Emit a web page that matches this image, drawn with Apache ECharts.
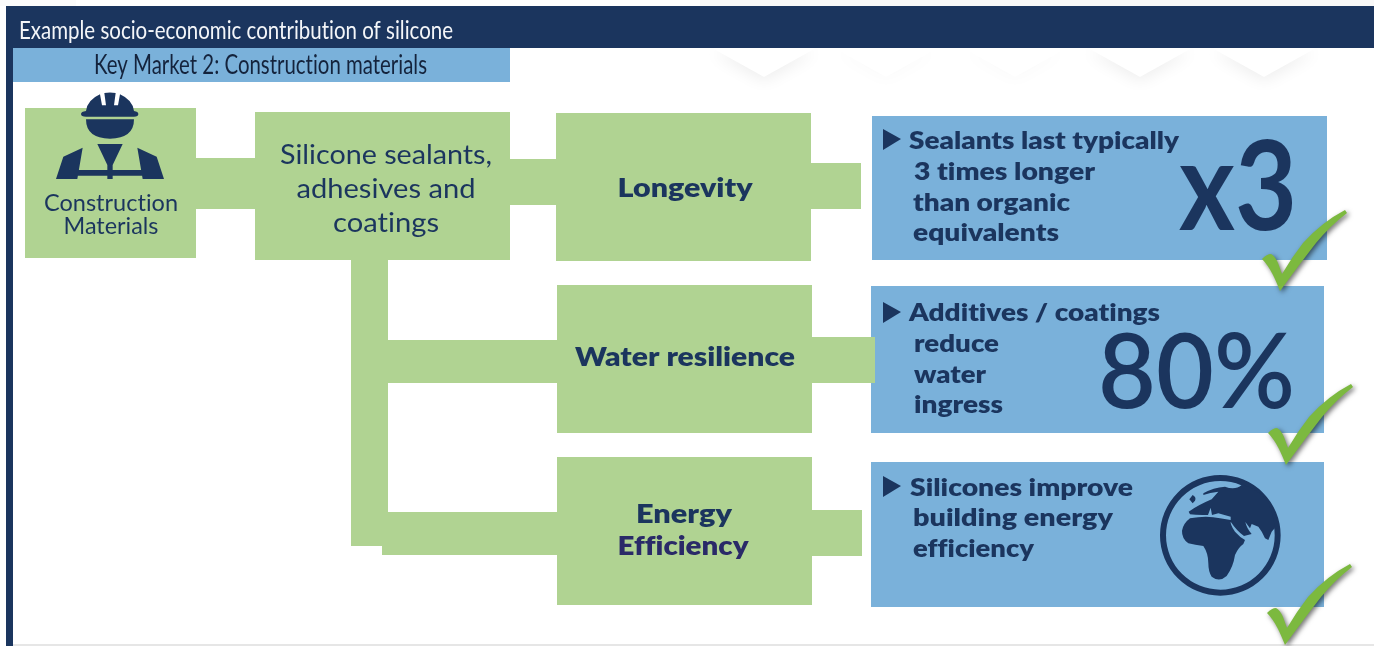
<!DOCTYPE html>
<html><head><meta charset="utf-8">
<script src="https://cdn.jsdelivr.net/npm/echarts@6/dist/echarts.min.js"></script>
<style>html,body{margin:0;padding:0;background:#fff}#c{width:1374px;height:646px}</style>
</head><body><div id="c"></div>
<script>
// ---- content ----
var chartTitle = ['Example socio-economic contribution of silicone'];
var marketTitle = ['Key Market 2: Construction materials'];
var sourceLabel = ['Construction', 'Materials'];
var productLabel = ['Silicone sealants,', 'adhesives and', 'coatings'];
var benefitLabels = ['Longevity', 'Water resilience', 'Energy', 'Efficiency'];
var claimLongevity = ['Sealants last typically', '3 times longer', 'than organic', 'equivalents'];
var claimWater = ['Additives / coatings', 'reduce', 'water', 'ingress'];
var claimEnergy = ['Silicones improve', 'building energy', 'efficiency'];
var bigValues = ['x3', '80%'];

var NAVY = '#1b355e', GREEN = '#b0d392', BLUE = '#7ab1da', CHECK = '#7cb93f';

// ---- layout table for the hidden pixel axes: [x0, y0, x1, y1, fill] ----
var blocks = [
  [700, 0, 1374, 6, '#f8f8f8'], [0, 0, 76, 6, '#fbfbfb'],
  [6, 6, 1374, 48, NAVY], [6, 48, 13, 646, NAVY], [13, 48, 510, 82, BLUE],
  [872, 116, 1327, 260, BLUE], [871, 286, 1324, 433, BLUE], [871, 462, 1324, 607, BLUE],
  [25, 108, 196, 258, GREEN], [196, 158, 255, 209, GREEN], [255, 112, 510, 260, GREEN],
  [510, 159, 556, 205, GREEN], [556, 113, 811, 261, GREEN], [811, 163, 861, 209, GREEN],
  [351, 260, 388, 546, GREEN], [388, 340, 557, 383, GREEN], [557, 285, 812, 433, GREEN],
  [812, 337, 875, 383, GREEN], [382, 512, 557, 555, GREEN], [557, 457, 812, 605, GREEN],
  [812, 510, 862, 556, GREEN], [13, 644, 1374, 646, '#e6e6e6']
];
// [text, x, yCentre, size, weight, colour, align, targetWidth]
var labels = [
  [chartTitle[0], 19, 31, 25, 400, '#f4f6f9', 'left', 434],
  [marketTitle[0], 94, 66, 26, 400, '#14233c', 'left', 333],
  [sourceLabel[0], 111, 204, 23, 400, NAVY, 'center', 134],
  [sourceLabel[1], 111, 227, 23, 400, NAVY, 'center', 95],
  [productLabel[0], 386, 156, 26, 400, NAVY, 'center', 212],
  [productLabel[1], 386, 190, 26, 400, NAVY, 'center', 179],
  [productLabel[2], 386, 224, 26, 400, NAVY, 'center', 106],
  [benefitLabels[0], 685, 188, 27, 800, NAVY, 'center', 135],
  [benefitLabels[1], 685, 357, 27, 800, NAVY, 'center', 220],
  [benefitLabels[2], 684, 514, 27, 800, NAVY, 'center', 96],
  [benefitLabels[3], 683, 546, 27, 800, '#2a2a68', 'center', 131],
  [claimLongevity[0], 909, 141, 25, 800, NAVY, 'left', 270],
  [claimLongevity[1], 914, 172, 25, 800, NAVY, 'left', 181],
  [claimLongevity[2], 913, 203, 25, 800, NAVY, 'left', 157],
  [claimLongevity[3], 913, 233, 25, 800, NAVY, 'left', 146],
  [claimWater[0], 909, 313, 25, 800, NAVY, 'left', 251],
  [claimWater[1], 914, 344, 25, 800, NAVY, 'left', 85],
  [claimWater[2], 914, 375, 25, 800, NAVY, 'left', 72],
  [claimWater[3], 914, 405, 25, 800, NAVY, 'left', 89],
  [claimEnergy[0], 910, 488, 25, 800, NAVY, 'left', 223],
  [claimEnergy[1], 913, 518, 25, 800, NAVY, 'left', 200],
  [claimEnergy[2], 913, 549, 25, 800, NAVY, 'left', 121],
  [bigValues[0], 1179, 190, 124, 700, NAVY, 'left', 118],
  [bigValues[1], 1098, 374, 104, 600, NAVY, 'left', 197]
];
// [x, y, kind]
var marks = [
  [883, 129, 'arrow'], [883, 302, 'arrow'], [883, 476, 'arrow'],
  [0, 0, 'worker'], [1140, 460, 'globe'],
  [1262, 259, 'check'], [1268, 433, 'check'], [1267, 613, 'check']
];
var chevrons = [[764, 48, 0.07], [1140, 48, 0.07], [1264, 48, 0.07], [886, 48, 0.02], [1015, 48, 0.02]];

var FONT = 'Lato, "Open Sans", sans-serif';
// no ligatures: the reference sets "ti" and "fi" as separate letters
var origGet = HTMLCanvasElement.prototype.getContext;
HTMLCanvasElement.prototype.getContext = function () {
  var c = origGet.apply(this, arguments);
  if (arguments[0] === '2d' && c) { c.textRendering = 'optimizeSpeed'; }
  return c;
};
var mctx = document.createElement('canvas').getContext('2d');
function fit(t, size, weight, w) {
  mctx.font = weight + ' ' + size + 'px ' + FONT;
  return w / mctx.measureText(t).width;
}
function third(path, x, y, fill) {
  return { type: 'path', x: x, y: y, scaleX: 1 / 3, scaleY: 1 / 3,
    shape: { pathData: path, layout: 'none' }, style: { fill: fill } };
}
function glyph(kind, p) {
  if (kind === 'arrow') {
    return { type: 'polygon', x: p[0], y: p[1], shape: { points: [[0, 0], [18, 10], [0, 21]] }, style: { fill: NAVY } };
  }
  if (kind === 'check') {
    return { type: 'path', x: p[0], y: p[1],
      shape: { layout: 'none', pathData: 'M0 0 Q5 -5 9 -5 Q13 -3 16 4 L20 15 Q30 -2 41 -16 Q60 -37 83 -49 L85 -46 Q68 -33 54 -16 Q40 2 18 32 Q14 22 11 16 Q6 6 0 0 Z' },
      style: { fill: CHECK, shadowBlur: 5, shadowColor: 'rgba(0,0,0,0.55)', shadowOffsetX: 2, shadowOffsetY: 2 } };
  }
  if (kind === 'worker') {
    var body = 'M243 342 Q243 335 258 333 Q262 300 300 283 L306 316 L318 316 L313 279 Q330 276 347 279 L342 316 L354 316 L360 283 Q398 300 402 333 Q415 335 415 342 Q415 350 402 350 L258 350 Q243 350 243 342 Z' +
      'M258 358 L402 358 Q402 415 330 416 Q258 415 258 358 Z' +
      'M248 443 L232 537 L168 537 L190 470 Z M412 443 L470 470 L492 537 L428 537 Z M232 510 L428 510 L428 527 L232 527 Z' +
      'M292 432 L368 432 L338 495 L338 537 L322 537 L322 495 Z';
    return third(body, p[0], p[1], NAVY);
  }
  if (kind === 'globe') {
    var ring = 'M241 45 A181 181 0 1 1 240.9 45 Z M241 63 A163 163 0 1 0 241.1 63 Z';
    var land = 'M150 175 Q200 166 240 175 L272 180 Q270 195 285 215 Q300 232 315 240 L310 252 Q295 262 285 285 Q280 320 260 348 Q238 368 215 350 Q205 335 205 310 Q205 280 190 258 Q165 255 145 250 Q125 235 126 212 Q130 190 150 175 Z' +
      'M190 100 Q220 82 255 80 Q285 92 305 75 Q345 82 375 115 Q400 150 404 205 L395 215 L385 240 L375 235 Q365 212 355 200 L335 192 L330 205 L316 186 Q320 205 335 222 L312 228 Q290 212 272 185 L272 170 L235 160 L216 165 L212 143 L204 165 Q170 166 150 163 L146 155 Q175 135 215 118 L235 95 Q210 98 190 105 Z' +
      'M158 105 Q170 112 165 122 L158 130 L148 118 Z';
    return { type: 'group', children: [third(ring, p[0], p[1], NAVY), third(land, p[0], p[1], NAVY)] };
  }
  return { type: 'group' };
}

var chart = echarts.init(document.getElementById('c'));
chart.setOption({
  animation: false,
  backgroundColor: '#ffffff',
  grid: { left: 0, right: 0, top: 0, bottom: 0 },
  xAxis: { type: 'value', min: 0, max: 1374, show: false },
  yAxis: { type: 'value', min: 0, max: 646, inverse: true, show: false },
  series: [
    { type: 'custom', name: 'chevrons', silent: true, z: 1, data: chevrons.map(function (c) { return [c[0], c[1]]; }),
      encode: { x: 0, y: 1 }, clip: false,
      renderItem: function (par, api) {
        var p = api.coord([api.value(0), api.value(1)]);
        return { type: 'polygon', x: p[0], y: p[1], shape: { points: [[-52, 0], [0, 29], [52, 0]] },
          style: { fill: '#fff', shadowBlur: 16, shadowOffsetY: 4, shadowColor: 'rgba(0,0,0,' + chevrons[par.dataIndex][2] + ')' } };
      } },
    { type: 'custom', name: 'blocks', silent: true, z: 2, data: blocks.map(function (b) { return b.slice(0, 4); }),
      encode: { x: [0, 2], y: [1, 3] }, clip: false,
      renderItem: function (par, api) {
        var a = api.coord([api.value(0), api.value(1)]), b = api.coord([api.value(2), api.value(3)]);
        return { type: 'rect', shape: { x: a[0], y: a[1], width: b[0] - a[0], height: b[1] - a[1] }, style: { fill: blocks[par.dataIndex][4] } };
      } },
    { type: 'custom', name: 'marks', silent: true, z: 3, data: marks.map(function (g) { return [g[0], g[1]]; }),
      encode: { x: 0, y: 1 }, clip: false,
      renderItem: function (par, api) {
        return glyph(marks[par.dataIndex][2], api.coord([api.value(0), api.value(1)]));
      } },
    { type: 'custom', name: 'labels', silent: true, z: 4, data: labels.map(function (l) { return [l[1], l[2]]; }),
      encode: { x: 0, y: 1 }, clip: false,
      renderItem: function (par, api) {
        var l = labels[par.dataIndex], p = api.coord([api.value(0), api.value(1)]);
        return { type: 'text', x: p[0], y: p[1], scaleX: fit(l[0], l[3], l[4], l[7]),
          style: { text: l[0], x: 0, y: 0, fill: l[5], align: l[6], verticalAlign: 'middle',
            font: l[4] + ' ' + l[3] + 'px ' + FONT } };
      } }
  ]
});
</script></body></html>
